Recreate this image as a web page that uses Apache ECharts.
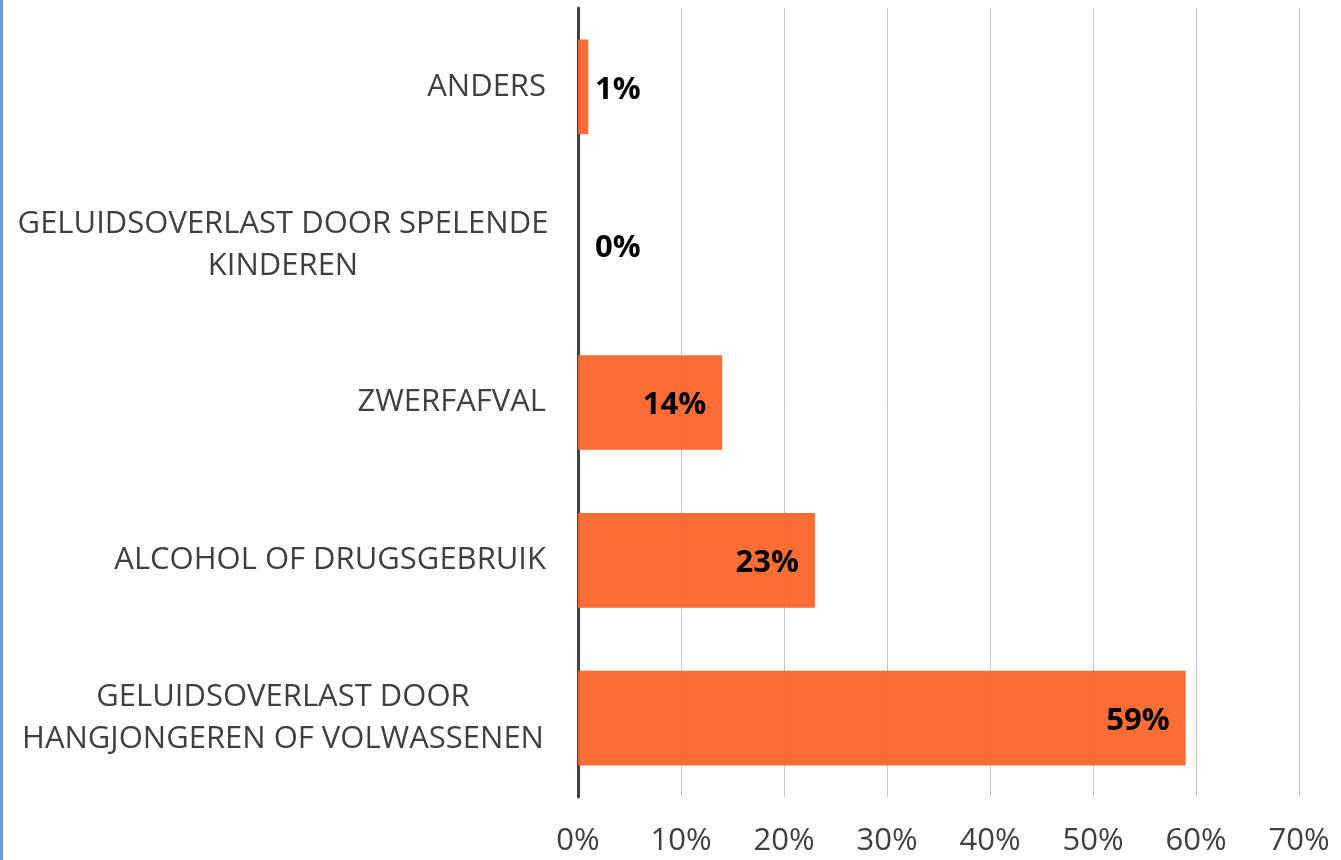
<!DOCTYPE html>
<html>
<head>
<meta charset="utf-8">
<script src="https://cdn.jsdelivr.net/npm/echarts@6/dist/echarts.min.js"></script>
<style>
  html, body { margin: 0; padding: 0; background: #fff; }
  #chart { width: 1341px; height: 860px; box-sizing: border-box; border-left: 3px solid #6b9bd9; }
</style>
</head>
<body>
<div id="chart"></div>
<script>
// categories from top to bottom
const categories = [
  'ANDERS',
  'GELUIDSOVERLAST DOOR SPELENDE\nKINDEREN',
  'ZWERFAFVAL',
  'ALCOHOL OF DRUGSGEBRUIK',
  'GELUIDSOVERLAST DOOR\nHANGJONGEREN OF VOLWASSENEN'
]
const values = [1, 0, 14, 23, 59]
const xTicks = { min: 0, max: 70, step: 10 }

const chart = echarts.init(document.getElementById('chart'))
const font = '"Open Sans", "Noto Sans", sans-serif'

const option = {
  animation: false,
  grid: { left: 575, right: 42, top: 8, bottom: 63, containLabel: false },
  xAxis: {
    type: 'value',
    min: xTicks.min,
    max: xTicks.max,
    interval: xTicks.step,
    axisLine: { show: false },
    axisTick: { show: false },
    splitLine: { show: true, lineStyle: { color: '#c4c4c4', width: 1 } },
    axisLabel: {
      formatter: '{value}%',
      color: '#404040',
      fontFamily: font,
      fontSize: 31,
      margin: 29
    }
  },
  yAxis: {
    type: 'category',
    inverse: true,
    data: categories,
    axisLine: { show: true, lineStyle: { color: '#404040', width: 3 } },
    axisTick: { show: false },
    axisLabel: {
      color: '#404040',
      fontFamily: font,
      fontSize: 31,
      margin: 32,
      lineHeight: 42,
      formatter: function (v) {
        const lines = v.split('\n')
        if (lines.length === 1) return v
        return lines.map(l => '{c|' + l + '}').join('\n')
      },
      rich: {
        c: {
          width: 526,
          align: 'center',
          color: '#404040',
          fontFamily: font,
          fontSize: 31,
          lineHeight: 42
        }
      }
    }
  },
  series: [{
    type: 'bar',
    barCategoryGap: '40%',
    data: values.map(v => ({
      value: v,
      label: v < 5
        ? { position: 'insideLeft', distance: 17 }
        : { position: 'insideRight', distance: 16 }
    })),
    itemStyle: { color: 'rgba(252,100,40,0.94)' },
    label: {
      show: true,
      formatter: '{c}%',
      color: '#000',
      fontFamily: font,
      fontWeight: 'bold',
      fontSize: 31,
      offset: [0, 3]
    }
  }]
}

chart.setOption(option)
</script>
</body>
</html>
